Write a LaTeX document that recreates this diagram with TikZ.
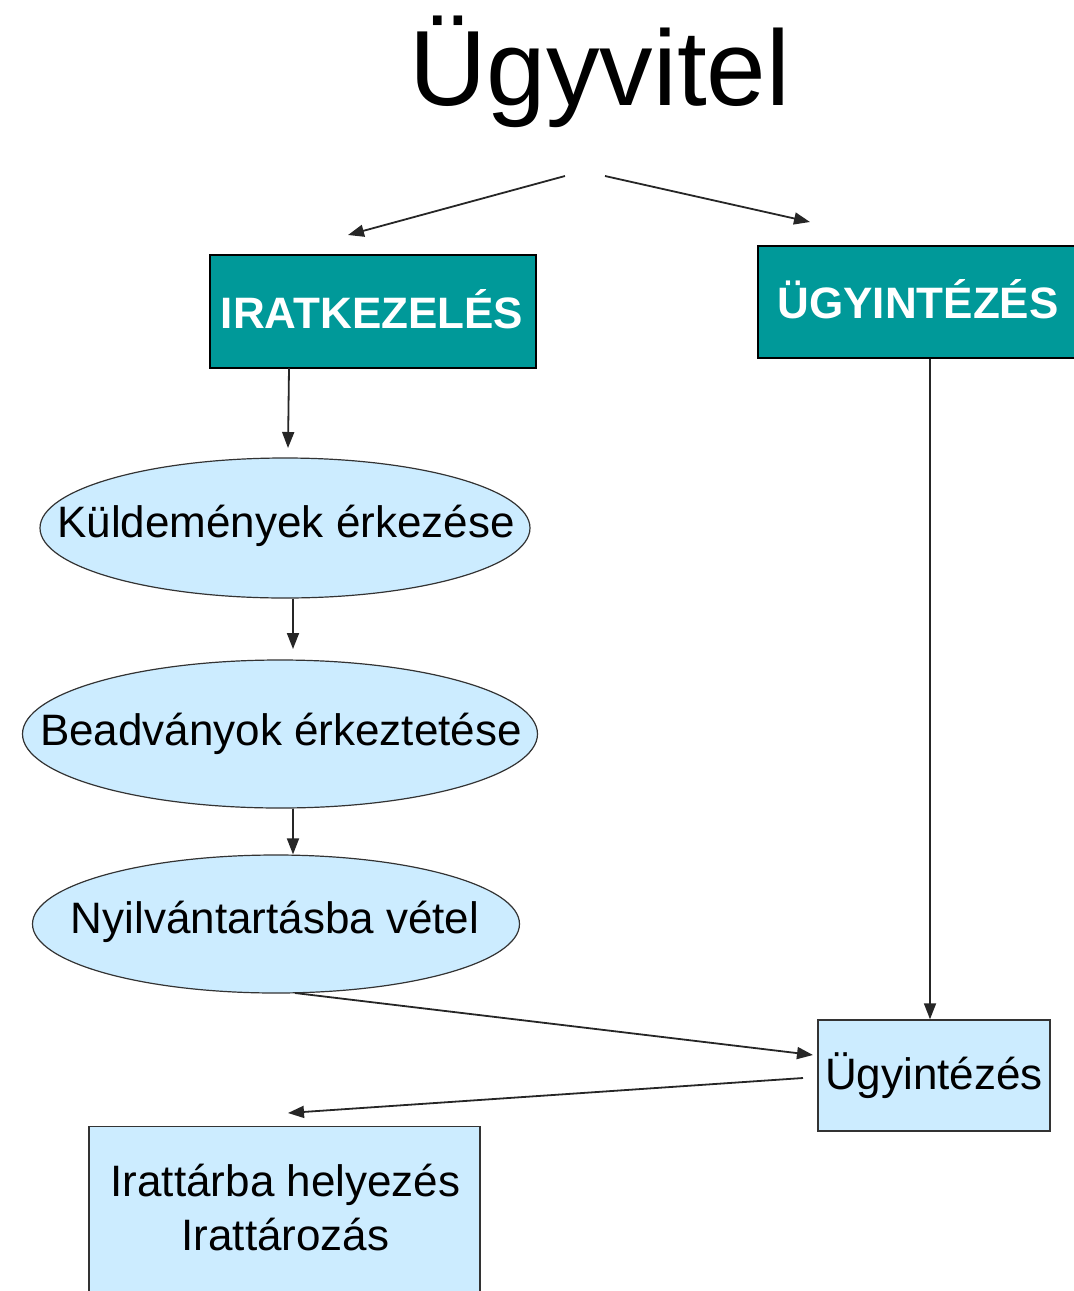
\documentclass[tikz,border=0pt]{standalone}
\usepackage{fontspec}
\setmainfont{Liberation Sans}
\usetikzlibrary{arrows.meta,shapes.geometric}
\definecolor{tealbox}{HTML}{009999}
\definecolor{lightbox}{HTML}{CCECFF}
\begin{document}
\begin{tikzpicture}[x=1pt,y=-1pt,
  conn/.style={draw=black!85,line width=1.8pt,-{Triangle[length=16pt,width=12pt]}},
  headbox/.style={draw=black,line width=1.4pt,fill=tealbox,text=white,inner sep=0pt,
     font=\fontsize{44}{50}\selectfont\bfseries},
  oval/.style={ellipse,draw=black!80,line width=1.2pt,fill=lightbox,inner sep=0pt},
  ovaltext/.style={inner sep=0pt,font=\fontsize{44}{50}\selectfont},
  stepbox/.style={draw=black!80,line width=1.4pt,fill=lightbox,inner sep=0pt,align=center,
     font=\fontsize{44}{54}\selectfont}]
\useasboundingbox (0,0) rectangle (1074,1291);
\node (title) at (600,72) {\fontsize{107}{120}\selectfont Ügyvitel};
\node[headbox,minimum width=326pt,minimum height=113pt] (irat) at (373,311.5) {};
\node[inner sep=0pt,text=white,font=\fontsize{44}{50}\selectfont\bfseries] (iratt) at (372,309) {IRATKEZELÉS};
\node[headbox,minimum width=322pt,minimum height=112pt] (ugyi) at (919,302) {};
\node[inner sep=0pt,text=white,font=\fontsize{44}{50}\selectfont\bfseries] (ugyit) at (918,299) {ÜGYINTÉZÉS};
\node[oval,minimum width=490pt,minimum height=140pt] (e1) at (285,528) {};
\node[ovaltext] (e1t) at (286,526) {Küldemények érkezése};
\node[oval,minimum width=515pt,minimum height=148pt] (e2) at (280,734) {};
\node[ovaltext] (e2t) at (281,734) {Beadványok érkeztetése};
\node[oval,minimum width=487pt,minimum height=138pt] (e3) at (276,924) {};
\node[ovaltext] (e3t) at (275,922) {Nyilvántartásba vétel};
\node[stepbox,minimum width=232pt,minimum height=111pt] (ugy) at (934,1075.5) {Ügyintézés};
\node[stepbox,minimum width=391pt,minimum height=180pt,anchor=north] (arch) at (284.5,1126) {};
\node[font=\fontsize{44}{54}\selectfont,align=center] (archtxt) at (285.5,1207) {Irattárba helyezés\\Irattározás};
% free-ended connectors
\coordinate (t1s) at (565,176);
\coordinate (t1e) at (348,235);
\coordinate (t2s) at (605,176);
\coordinate (t2e) at (810,222);
\draw[conn] (t1s) -- (t1e);
\draw[conn] (t2s) -- (t2e);
\coordinate (a1s) at (289,368);
\coordinate (a1e) at (288,448);
\draw[conn] (a1s) -- (a1e);
\draw[conn] (e1.south -| 293,0) -- (293,649);
\draw[conn] (e2.south -| 293,0) -- (e3.north -| 293,0);
\draw[conn] (ugyi.south -| 930,0) -- (ugy.north -| 930,0);
\coordinate (a5s) at (295,993);
\coordinate (a5e) at (813,1055);
\draw[conn] (a5s) -- (a5e);
\coordinate (a6s) at (803,1078);
\coordinate (a6e) at (288,1113);
\draw[conn] (a6s) -- (a6e);
\end{tikzpicture}
\end{document}
